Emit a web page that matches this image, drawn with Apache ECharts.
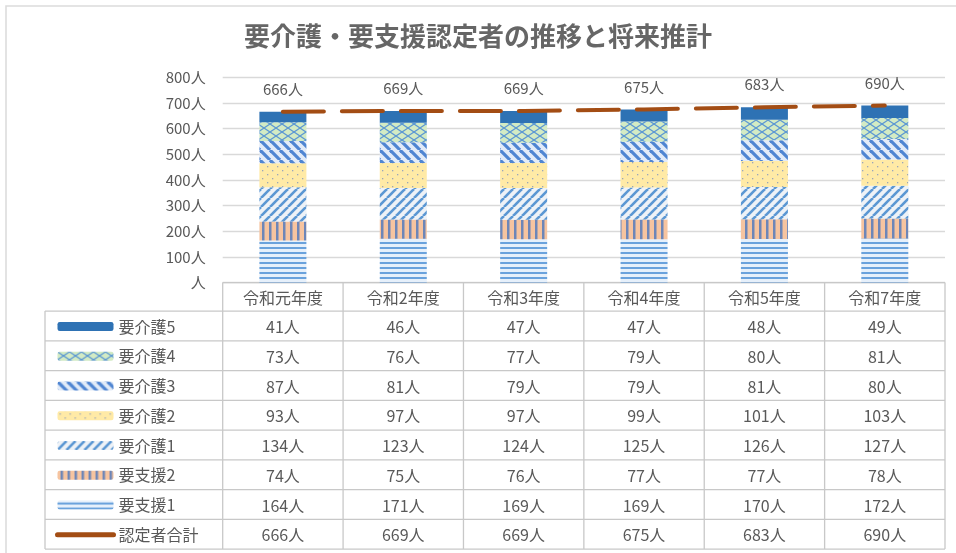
<!DOCTYPE html>
<html><head><meta charset="utf-8">
<script src="https://cdn.jsdelivr.net/npm/echarts@6/dist/echarts.min.js"></script>
<style>html,body{margin:0;padding:0;background:#fff}#c{width:956px;height:553px}</style>
</head><body><div id="c"></div>
<script>
// ---- data ----
const categories = ['令和元年度','令和2年度','令和3年度','令和4年度','令和5年度','令和7年度'];
const shien1 = [164,171,169,169,170,172];
const shien2 = [74,75,76,77,77,78];
const kaigo1 = [134,123,124,125,126,127];
const kaigo2 = [93,97,97,99,101,103];
const kaigo3 = [87,81,79,79,81,80];
const kaigo4 = [73,76,77,79,80,81];
const kaigo5 = [41,46,47,47,48,49];
const totals = [666,669,669,675,683,690];
const yMin = 0, yMax = 800, yInterval = 100;
const unit = '人';

// ---- patterns ----
function pat(w, h, draw) {
  const c = document.createElement('canvas');
  c.width = w; c.height = h;
  const g = c.getContext('2d');
  draw(g, w, h);
  return { image: c, repeat: 'repeat' };
}
const pShien1 = pat(4, 5, (g,w,h) => { g.fillStyle='#e6f0fb'; g.fillRect(0,0,w,h); g.fillStyle='#6aa2dc'; g.fillRect(0,2,w,2); });
const pShien2 = pat(7, 4, (g,w,h) => { g.fillStyle='#f6c4a0'; g.fillRect(0,0,w,h); g.fillStyle='#6d86b8'; g.fillRect(3,0,2.5,h); });
const pKaigo1 = pat(9, 9, (g,w,h) => {
  g.fillStyle='#eef2f7'; g.fillRect(0,0,w,h);
  g.strokeStyle='#5b97d3'; g.lineWidth=2.6;
  [[0,h,w,0],[-w,h,0,0],[w,h,2*w,0]].forEach(l=>{g.beginPath();g.moveTo(l[0],l[1]);g.lineTo(l[2],l[3]);g.stroke();});
});
const pKaigo2 = pat(10, 8, (g,w,h) => {
  g.fillStyle='#ffeaa6'; g.fillRect(0,0,w,h);
  g.fillStyle='#9aa6b8'; g.fillRect(2,2,1.3,1.3); g.fillRect(7,6,1.3,1.3);
});
const pKaigo3 = pat(10, 10, (g,w,h) => {
  g.fillStyle='#e2ebf8'; g.fillRect(0,0,w,h);
  g.strokeStyle='#4f85d2'; g.lineWidth=3.2;
  [[0,0,w,h],[-w,0,0,h],[w,0,2*w,h]].forEach(l=>{g.beginPath();g.moveTo(l[0],l[1]);g.lineTo(l[2],l[3]);g.stroke();});
});
const pKaigo4 = pat(12, 8, (g,w,h) => {
  g.fillStyle='#d3ebc4'; g.fillRect(0,0,w,h);
  g.strokeStyle='#5b97d3'; g.lineWidth=1.2;
  g.beginPath(); g.moveTo(0,0); g.lineTo(w,h); g.stroke();
  g.beginPath(); g.moveTo(0,h); g.lineTo(w,0); g.stroke();
});
const cKaigo5 = '#2e72b4';
const lineColor = '#a34d14';
const txt = '#595959';
const FONT = '"Noto Sans CJK JP", "Noto Sans", sans-serif';

const barSeries = [
  ['要支援1', shien1, pShien1],
  ['要支援2', shien2, pShien2],
  ['要介護1', kaigo1, pKaigo1],
  ['要介護2', kaigo2, pKaigo2],
  ['要介護3', kaigo3, pKaigo3],
  ['要介護4', kaigo4, pKaigo4],
  ['要介護5', kaigo5, cKaigo5]
];

const chart = echarts.init(document.getElementById('c'), null, { renderer: 'canvas' });
const option = {
  animation: false,
  backgroundColor: '#fff',
  title: {
    text: '要介護・要支援認定者の推移と将来推計',
    left: 'center', top: 18,
    textStyle: { fontFamily: FONT, fontSize: 26, fontWeight: 'bold', color: '#666666' }
  },
  grid: { left: 222.7, right: 11, top: 77.3, bottom: 270.4, containLabel: false },
  legend: {
    orient: 'vertical', left: 55, top: 318.5, padding: 0,
    itemWidth: 56, itemHeight: 9, itemGap: 13.75,
    textStyle: { fontFamily: FONT, fontSize: 16, color: txt, lineHeight: 16 },
    data: [
      '要介護5','要介護4','要介護3','要介護2','要介護1','要支援2','要支援1',
      { name: '認定者合計', itemStyle: { opacity: 0 }, lineStyle: { type: 'solid', width: 5, cap: 'round', color: lineColor } }
    ]
  },
  xAxis: {
    type: 'category', data: categories,
    axisLine: { show: false }, axisTick: { show: false }, axisLabel: { show: false }
  },
  yAxis: {
    type: 'value', min: yMin, max: yMax, interval: yInterval,
    axisLine: { show: false }, axisTick: { show: false },
    splitLine: { lineStyle: { color: '#d9d9d9', width: 1.3 } },
    axisLabel: {
      margin: 17, fontFamily: FONT, fontSize: 15, color: txt,
      formatter: v => (v === 0 ? '' : v) + unit
    }
  },
  series: barSeries.map(([name, data, color]) => ({
    name, type: 'bar', stack: 'total', data, barWidth: 47,
    itemStyle: { color }
  })).concat([{
    name: '認定者合計', type: 'line', data: totals,
    symbol: 'circle', symbolSize: 0.1, showSymbol: true,
    lineStyle: { color: lineColor, width: 4, type: [41, 18], cap: 'round' },
    itemStyle: { color: lineColor },
    label: {
      show: true, position: 'top', distance: 15,
      fontFamily: FONT, fontSize: 15, color: txt,
      formatter: p => p.value + unit
    },
    z: 5
  }])
};
chart.setOption(option);

// ---- data table drawn under the plot, aligned to the category axis ----
const cx = categories.map((c, i) => chart.convertToPixel({ xAxisIndex: 0 }, i));
const band = cx.length > 1 ? cx[1] - cx[0] : 120;
const tableTop = chart.convertToPixel({ yAxisIndex: 0 }, 0);
const headerH = 28.5, rowH = 29.75;
const tableLeft = 45;
const colLeft = cx[0] - band / 2, colRight = cx[cx.length - 1] + band / 2;
const rows = [kaigo5, kaigo4, kaigo3, kaigo2, kaigo1, shien2, shien1, totals];
const tableBottom = tableTop + headerH + rows.length * rowH;
const border = '#c8c8c8';
const els = [];
els.push({ type: 'rect', shape: { x: 6, y: 6, width: 970, height: 570 }, style: { fill: null, stroke: '#dcdcdc', lineWidth: 1.6 }, silent: true });
els.push({ type: 'line', shape: { x1: colLeft, y1: tableTop, x2: colRight, y2: tableTop }, style: { stroke: border, lineWidth: 1.3 } });
for (let r = 0; r <= rows.length; r++) {
  const y = tableTop + headerH + r * rowH;
  els.push({ type: 'line', shape: { x1: tableLeft, y1: y, x2: colRight, y2: y }, style: { stroke: border, lineWidth: 1.3 } });
}
els.push({ type: 'line', shape: { x1: tableLeft, y1: tableTop + headerH, x2: tableLeft, y2: tableBottom }, style: { stroke: border, lineWidth: 1.3 } });
for (let c = 0; c <= categories.length; c++) {
  const x = colLeft + c * band;
  els.push({ type: 'line', shape: { x1: x, y1: tableTop, x2: x, y2: tableBottom }, style: { stroke: border, lineWidth: 1.3 } });
}
categories.forEach((c, i) => {
  els.push({ type: 'text', x: cx[i], y: tableTop + headerH / 2 + 1, style: { text: c, align: 'center', verticalAlign: 'middle', font: '16px ' + FONT, fill: txt } });
});
rows.forEach((arr, r) => {
  arr.forEach((v, i) => {
    els.push({ type: 'text', x: cx[i], y: tableTop + headerH + r * rowH + rowH / 2 + 1, style: { text: v + unit, align: 'center', verticalAlign: 'middle', font: '16px ' + FONT, fill: txt } });
  });
});
chart.setOption({ graphic: els });
</script>
</body></html>
